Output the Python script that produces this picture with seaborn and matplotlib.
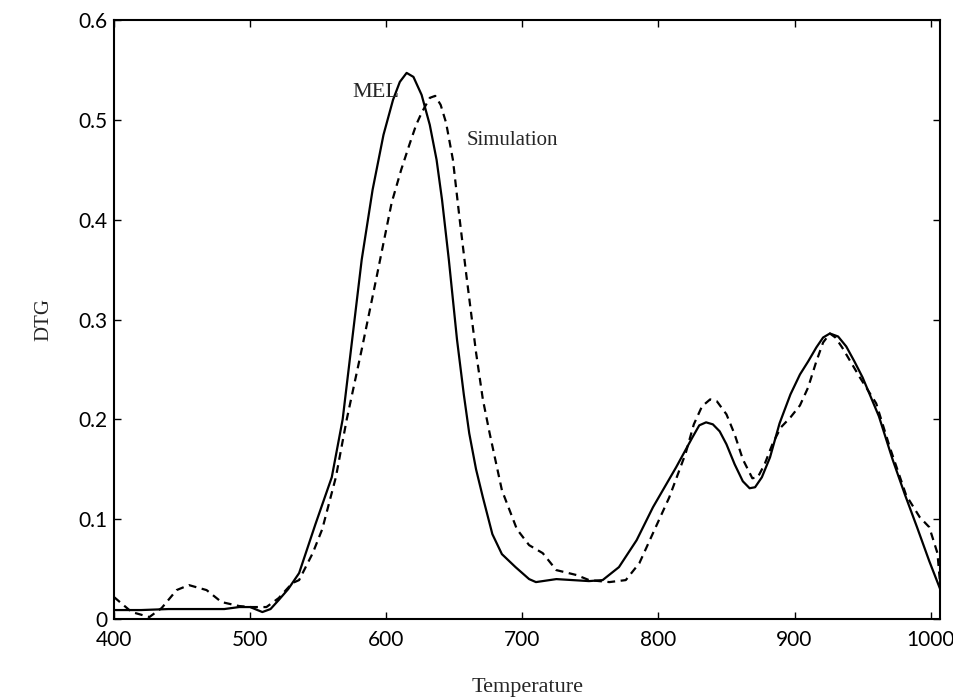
import pandas as pd
import matplotlib
matplotlib.use("Agg")
import matplotlib.pyplot as plt
import seaborn as sns

# Estilo
sns.set_theme(style="ticks")
plt.rcParams["font.family"] = ["Liberation Serif", "DejaVu Serif"]
plt.rcParams["lines.solid_joinstyle"] = "round"
plt.rcParams["lines.dash_joinstyle"] = "round"

# Dados (Temperatura, DTG)
temp_mel = [400, 420, 440, 460, 481, 492, 500, 509, 515, 521, 528, 536, 548, 560, 568,
            575, 582, 590, 598, 605, 610, 615, 620, 626, 632, 637, 641, 646, 652, 657,
            661, 666, 671, 678, 685, 695, 705, 710, 725, 749, 759, 771, 784, 796, 813,
            825, 830, 835, 840, 845, 850, 856, 862, 867, 871, 876, 882, 889, 897, 904,
            910, 916, 921, 926, 932, 938, 944, 950, 962, 972, 981, 990, 999, 1007]
dtg_mel = [0.009, 0.009, 0.010, 0.010, 0.010, 0.012, 0.012, 0.007, 0.010, 0.019, 0.030,
           0.046, 0.095, 0.142, 0.200, 0.280, 0.360, 0.430, 0.485, 0.520, 0.538, 0.547,
           0.543, 0.525, 0.495, 0.460, 0.420, 0.360, 0.280, 0.225, 0.186, 0.150, 0.122,
           0.085, 0.065, 0.052, 0.040, 0.037, 0.040, 0.038, 0.039, 0.052, 0.079, 0.112,
           0.152, 0.182, 0.194, 0.197, 0.195, 0.188, 0.175, 0.155, 0.138, 0.131, 0.132,
           0.142, 0.162, 0.196, 0.225, 0.245, 0.258, 0.272, 0.282, 0.286, 0.283, 0.273,
           0.258, 0.242, 0.203, 0.160, 0.125, 0.092, 0.058, 0.030]

temp_sim = [400, 413, 426, 435, 446, 455, 468, 479, 492, 501, 512, 521, 531, 536, 546,
            553, 563, 571, 582, 593, 604, 611, 617, 622, 626, 632, 636, 640, 644, 649,
            654, 659, 666, 671, 676, 685, 696, 705, 715, 725, 740, 749, 764, 776, 786,
            796, 808, 820, 826, 832, 838, 843, 850, 856, 862, 869, 873, 878, 884, 890,
            897, 904, 910, 916, 921, 926, 930, 935, 948, 960, 970, 982, 992, 999, 1005,
            1007]
dtg_sim = [0.022, 0.007, 0.002, 0.011, 0.029, 0.034, 0.029, 0.017, 0.013, 0.012, 0.012,
           0.021, 0.036, 0.039, 0.066, 0.090, 0.142, 0.200, 0.270, 0.343, 0.417, 0.450,
           0.475, 0.495, 0.507, 0.522, 0.524, 0.515, 0.497, 0.460, 0.400, 0.343, 0.267,
           0.220, 0.186, 0.129, 0.090, 0.074, 0.066, 0.049, 0.044, 0.039, 0.037, 0.039,
           0.056, 0.086, 0.122, 0.166, 0.195, 0.213, 0.220, 0.218, 0.205, 0.185, 0.160,
           0.141, 0.142, 0.155, 0.176, 0.192, 0.202, 0.214, 0.232, 0.258, 0.277, 0.286,
           0.282, 0.272, 0.242, 0.216, 0.172, 0.124, 0.102, 0.092, 0.066, 0.035]

x_ticks = [400, 500, 600, 700, 800, 900, 1000]
y_ticks = [0, 0.1, 0.2, 0.3, 0.4, 0.5, 0.6]
y_tick_labels = ["0", "0.1", "0.2", "0.3", "0.4", "0.5", "0.6"]

df_mel = pd.DataFrame({"Temperature": temp_mel, "DTG": dtg_mel})
df_sim = pd.DataFrame({"Temperature": temp_sim, "DTG": dtg_sim})

fig = plt.figure(figsize=(9.54, 6.99), dpi=100)
ax = fig.add_axes([0.1195, 0.1144, 0.866, 0.857])

sns.lineplot(data=df_mel, x="Temperature", y="DTG", ax=ax, color="black",
             linewidth=1.6, estimator=None, sort=False)
sns.lineplot(data=df_sim, x="Temperature", y="DTG", ax=ax, color="black",
             linewidth=1.6, linestyle=(0, (3.5, 2.5)), estimator=None, sort=False)

ax.set_xlim(400, 1007)
ax.set_ylim(0, 0.6)
ax.set_xticks(x_ticks)
ax.set_yticks(y_ticks)
ax.set_yticklabels(y_tick_labels)
ax.tick_params(direction="in", length=5, width=1, top=True, right=True,
               labelsize=15, colors="black")
ax.tick_params(axis="x", pad=8)
ax.tick_params(axis="y", pad=5)
for lbl in ax.get_xticklabels() + ax.get_yticklabels():
    lbl.set_family(["Lato", "DejaVu Sans"])

for s in ax.spines.values():
    s.set_linewidth(1.5)
    s.set_color("black")

ax.set_xlabel("Temperature", fontsize=16, labelpad=20)
ax.set_ylabel("DTG", fontsize=15, labelpad=18)

ax.text(575, 0.527, "MEL", fontsize=16, va="center", ha="left")
ax.text(659, 0.479, "Simulation", fontsize=15, va="center", ha="left")

fig.savefig("out.png", dpi=100)
